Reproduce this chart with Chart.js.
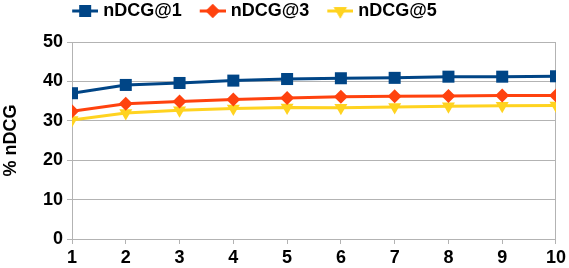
<!DOCTYPE html>
<html>
<head>
<meta charset="utf-8">
<script src="https://cdn.jsdelivr.net/npm/chart.js@4/dist/chart.umd.min.js"></script>
<style>
html,body{margin:0;padding:0;background:#fff;}
#wrap{width:569px;height:268px;}
</style>
</head>
<body>
<div id="wrap"><canvas id="c" width="569" height="268"></canvas></div>
<script>
const categories = [1, 2, 3, 4, 5, 6, 7, 8, 9, 10];
const ndcg1 = [37.0, 39.1, 39.6, 40.2, 40.6, 40.8, 40.9, 41.2, 41.2, 41.3];
const ndcg3 = [32.4, 34.3, 34.9, 35.4, 35.8, 36.1, 36.2, 36.3, 36.4, 36.4];
const ndcg5 = [30.2, 32.0, 32.7, 33.1, 33.4, 33.3, 33.5, 33.7, 33.8, 33.9];
const seriesNames = ['nDCG@1', 'nDCG@3', 'nDCG@5'];
const yTicks = [0, 10, 20, 30, 40, 50];

const colors = ['#004586', '#ff420e', '#ffd320'];
const styles = ['rect', 'rectRot', 'triangle'];
const radii = [8.5, 7, 7.5];
const rotations = [0, 0, 180];

function legendIcon(i) {
  const cv = document.createElement('canvas');
  cv.width = 34; cv.height = 16;
  const ctx = cv.getContext('2d');
  ctx.strokeStyle = colors[i];
  ctx.lineWidth = 3;
  ctx.beginPath(); ctx.moveTo(8, 8); ctx.lineTo(34, 8); ctx.stroke();
  ctx.fillStyle = colors[i];
  Chart.helpers.drawPoint(ctx, {pointStyle: styles[i], radius: radii[i], rotation: rotations[i], borderWidth: 0}, 21, 8);
  ctx.fill();
  return cv;
}

const font = {family: '"Liberation Sans", Arial, sans-serif', size: 18, weight: 'bold'};
const dataArrays = [ndcg1, ndcg3, ndcg5];

const legendShift = {
  id: 'legendShift',
  afterLayout(chart) {
    const lg = chart.legend;
    if (!lg) return;
    lg.left -= 26; lg.right -= 26;
    lg.top -= 12; lg.bottom -= 12;
  }
};

new Chart(document.getElementById('c'), {
  type: 'line',
  data: {
    datasets: dataArrays.map((arr, i) => ({
      label: seriesNames[i],
      data: categories.map((c, k) => ({x: c, y: arr[k]})),
      borderColor: colors[i],
      backgroundColor: colors[i],
      borderWidth: 3,
      pointStyle: styles[i],
      pointRadius: radii[i],
      pointHoverRadius: radii[i],
      pointRotation: rotations[i],
      pointBorderWidth: 0,
      tension: 0
    }))
  },
  plugins: [legendShift],
  options: {
    responsive: false,
    animation: false,
    events: [],
    layout: {padding: {left: 0, right: 12, top: 0, bottom: 0}},
    plugins: {
      tooltip: {enabled: false},
      legend: {
        position: 'top',
        labels: {
          font: font,
          color: '#000',
          usePointStyle: true,
          pointStyleWidth: 26,
          boxHeight: 16,
          padding: 14,
          generateLabels: (chart) => chart.data.datasets.map((d, i) => ({
            text: d.label,
            fillStyle: colors[i],
            strokeStyle: colors[i],
            lineWidth: 0,
            pointStyle: legendIcon(i),
            datasetIndex: i,
            hidden: false,
            fontColor: '#000'
          }))
        }
      }
    },
    scales: {
      x: {
        type: 'linear',
        min: 1, max: 10,
        afterBuildTicks: (axis) => { axis.ticks = categories.map(v => ({value: v})); },
        ticks: {font: font, color: '#000', padding: 3, maxRotation: 0, autoSkip: false},
        grid: {
          color: (ctx) => (ctx.tick && ctx.tick.value === 10) ? '#b3b3b3' : 'rgba(0,0,0,0)',
          tickColor: '#b3b3b3',
          tickLength: 5,
          lineWidth: 1
        },
        border: {display: true, color: '#b3b3b3'},
        afterFit: (axis) => { axis.height = 29; }
      },
      y: {
        min: 0, max: 50,
        afterBuildTicks: (axis) => { axis.ticks = yTicks.map(v => ({value: v})); },
        ticks: {font: font, color: '#000', padding: 4},
        grid: {color: '#b3b3b3', tickColor: '#b3b3b3', tickLength: 5, lineWidth: 1},
        border: {display: true, color: '#b3b3b3'},
        title: {display: true, text: '% nDCG', font: font, color: '#000', padding: {top: 0, bottom: 2}},
        afterFit: (axis) => { axis.width = 72; }
      }
    }
  }
});
</script>
</body>
</html>
